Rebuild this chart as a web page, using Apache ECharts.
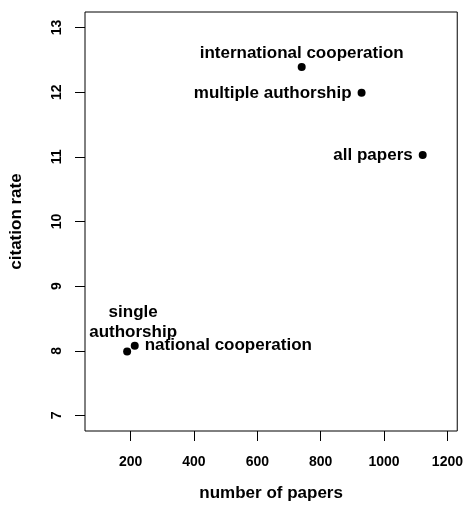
<!DOCTYPE html>
<html><head><meta charset="utf-8">
<script src="https://cdn.jsdelivr.net/npm/echarts@6/dist/echarts.min.js"></script>
<style>html,body{margin:0;padding:0;background:#fff}#c{width:466px;height:510px}</style>
</head><body><div id="c"></div>
<script>
const groups = ['international cooperation','multiple authorship','all papers','single\nauthorship','national cooperation'];
const papers = [740, 929, 1122, 189, 213];
const citationRate = [12.39, 11.99, 11.03, 7.99, 8.08];
const labelPos = ['top','left','left','top','right'];
const xTicks = [200,400,600,800,1000,1200];
const yTicks = [7,8,9,10,11,12,13];

const FONT = 'Liberation Sans';
const data = groups.map((g,i)=>({
  value:[papers[i], citationRate[i]],
  name:g,
  label:{position:labelPos[i], distance: i===3?5:(labelPos[i]==='top'?2:6),
    offset: i===3?[6,0]:[0,0], lineHeight: i===3?20:16}
}));
const chart = echarts.init(document.getElementById('c'));
chart.setOption({
  animation:false,
  grid:{left:85,top:12,right:7,bottom:79,show:true,borderColor:'#000',borderWidth:1,backgroundColor:'transparent'},
  xAxis:{type:'value',min:56,max:1231,
    name:'number of papers',nameLocation:'middle',nameGap:54,
    nameTextStyle:{fontFamily:FONT,fontWeight:'bold',fontSize:17,color:'#000'},
    axisLine:{show:false},splitLine:{show:false},
    axisTick:{show:true,length:10,customValues:xTicks,lineStyle:{color:'#000'}},
    axisLabel:{customValues:xTicks,margin:24,formatter:v=>String(v),fontFamily:FONT,fontWeight:'bold',fontSize:14,color:'#000'}},
  yAxis:{type:'value',min:6.76,max:13.24,
    name:'citation rate',nameLocation:'middle',nameGap:60,nameRotate:90,
    nameTextStyle:{fontFamily:FONT,fontWeight:'bold',fontSize:17,color:'#000'},
    axisLine:{show:false},splitLine:{show:false},
    axisTick:{show:true,length:10,customValues:yTicks,lineStyle:{color:'#000'}},
    axisLabel:{customValues:yTicks,margin:21,rotate:90,formatter:v=>String(v),fontFamily:FONT,fontWeight:'bold',fontSize:14,color:'#000'}},
  series:[{type:'scatter',symbol:'circle',symbolSize:8,itemStyle:{color:'#000',opacity:1},
    data:data,
    label:{show:true,formatter:p=>p.name,fontFamily:FONT,fontWeight:'bold',fontSize:17,color:'#000',textBorderWidth:0}}]
});
</script></body></html>
